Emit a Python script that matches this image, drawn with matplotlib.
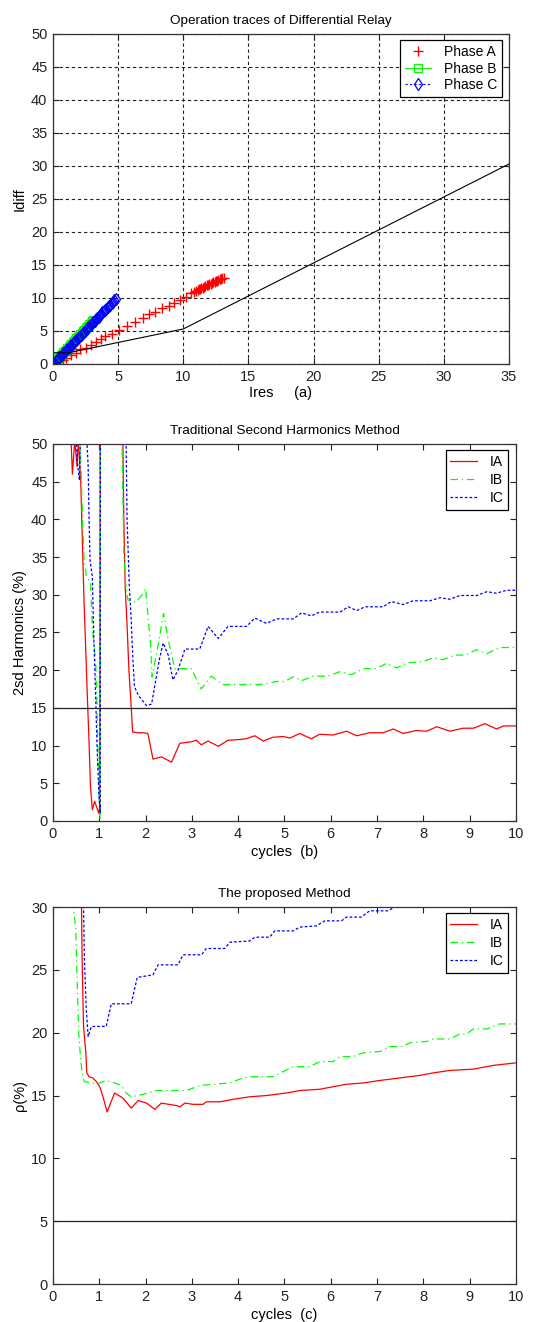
import numpy as np
import matplotlib
matplotlib.use('Agg')
import matplotlib.pyplot as plt

plt.rcParams['font.family'] = ['Liberation Sans', 'DejaVu Sans']

# DATOS PANEL (a): trazas de operacion del rele diferencial

caract_x = [0, 1.2, 10, 35]
caract_y = [1.7, 1.7, 5.3, 30.3]

fase_a = np.array([
    (0.0, 0.0), (0.1, 0.05), (0.2, 0.15), (0.35, 0.3), (0.5, 0.45), (0.75, 0.6),
    (1.0, 0.9), (1.4, 1.4), (1.75, 1.7), (2.1, 2.2), (2.5, 2.45), (2.9, 2.9),
    (3.3, 3.3), (3.7, 3.75), (4.0, 4.2), (4.5, 4.6), (5.1, 5.2), (5.7, 5.8),
    (6.3, 6.4), (6.9, 6.9), (7.4, 7.5), (7.8, 7.9), (8.4, 8.5), (8.9, 8.8),
    (9.3, 9.3), (9.75, 9.7), (10.2, 10.2), (10.6, 10.7), (10.8, 10.9),
    (10.95, 11.0), (11.1, 11.15), (11.2, 11.3), (11.3, 11.35), (11.4, 11.5),
    (11.5, 11.55), (11.6, 11.7), (11.7, 11.75), (11.8, 11.9), (11.9, 11.95),
    (12.0, 12.05), (12.1, 12.15), (12.2, 12.25), (12.3, 12.35), (12.4, 12.45),
    (12.5, 12.5), (12.6, 12.6), (12.7, 12.7), (12.8, 12.8), (12.9, 12.85),
    (13.0, 12.95), (13.1, 13.05)])

fase_b = np.array([
    (0.0, 0.0), (0.05, 0.15), (0.1, 0.25), (0.15, 0.3), (0.2, 0.45), (0.3, 0.65),
    (0.4, 0.85), (0.5, 1.1), (0.6, 1.3), (0.7, 1.5), (0.8, 1.75), (0.9, 1.95),
    (1.0, 2.15), (1.1, 2.4), (1.2, 2.6), (1.3, 2.8), (1.4, 3.0), (1.5, 3.25),
    (1.6, 3.45), (1.7, 3.65), (1.8, 3.9), (1.9, 4.1), (2.0, 4.3), (2.1, 4.5),
    (2.2, 4.75), (2.3, 4.95), (2.4, 5.15), (2.5, 5.4), (2.6, 5.6), (2.7, 5.8),
    (2.8, 6.05), (2.9, 6.25), (3.0, 6.45), (3.1, 6.7)])

fase_c = np.array([
    (0.0, 0.0), (0.05, 0.1), (0.1, 0.2), (0.2, 0.4), (0.3, 0.6), (0.4, 0.8),
    (0.5, 1.0), (0.6, 1.2), (0.7, 1.4), (0.8, 1.6), (0.9, 1.85), (1.0, 2.05),
    (1.1, 2.25), (1.2, 2.45), (1.3, 2.65), (1.4, 2.85), (1.5, 3.05), (1.6, 3.3),
    (1.7, 3.5), (1.8, 3.7), (1.9, 3.9), (2.0, 4.1), (2.1, 4.3), (2.2, 4.5),
    (2.3, 4.7), (2.4, 4.9), (2.5, 5.1), (2.6, 5.35), (2.7, 5.55), (2.8, 5.75),
    (2.9, 5.95), (3.0, 6.15), (3.1, 6.35), (3.2, 6.55), (3.3, 6.75), (3.4, 6.95),
    (3.5, 7.15), (3.6, 7.4), (3.7, 7.6), (3.8, 7.8), (3.9, 8.0), (4.0, 8.2),
    (4.1, 8.4), (4.2, 8.6), (4.3, 8.8), (4.4, 9.0), (4.5, 9.2), (4.6, 9.45),
    (4.7, 9.65), (4.8, 9.85)])

# DATOS PANEL (b): metodo tradicional de segundo armonico

ia_b = np.array([
    (0.36, 55), (0.42, 46), (0.47, 50.5), (0.52, 47), (0.55, 50.5), (0.6, 45),
    (0.64, 36), (0.67, 29.3), (0.74, 16.9), (0.78, 10.3), (0.81, 4.5), (0.85, 1.5),
    (0.9, 2.6), (0.94, 1.9), (0.99, 1.0), (1.01, 1.9), (1.02, 55), (1.5, 55),
    (1.53, 40), (1.56, 31), (1.6, 26), (1.64, 20), (1.69, 15.1), (1.72, 11.8),
    (1.85, 11.7), (1.95, 11.7), (2.05, 11.6), (2.16, 8.2), (2.34, 8.5), (2.56, 7.8),
    (2.74, 10.3), (2.99, 10.5), (3.1, 10.7), (3.2, 10.1), (3.35, 10.6), (3.57, 9.9),
    (3.78, 10.7), (4.03, 10.8), (4.17, 10.9), (4.36, 11.3), (4.54, 10.6), (4.75, 11.1),
    (4.97, 11.2), (5.12, 11.0), (5.33, 11.6), (5.58, 10.9), (5.76, 11.5), (6.05, 11.4),
    (6.34, 11.9), (6.56, 11.3), (6.84, 11.7), (7.13, 11.7), (7.35, 12.2), (7.56, 11.6),
    (7.85, 12.0), (8.07, 11.9), (8.29, 12.5), (8.57, 11.9), (8.86, 12.3), (9.08, 12.3),
    (9.33, 12.9), (9.58, 12.2), (9.73, 12.6), (10.0, 12.6)])

ib_b = np.array([
    (0.58, 55), (0.6, 48), (0.64, 40), (0.67, 35.0), (0.72, 32.4), (0.81, 31.7),
    (0.85, 25.7), (0.92, 21.3), (0.95, 15.6), (0.99, 4.1), (1.02, 0.1), (1.025, 55),
    (1.48, 55), (1.53, 35.5), (1.57, 31.5), (1.62, 29.3), (1.79, 29.0), (1.9, 29.8),
    (2.0, 30.8), (2.11, 23.1), (2.14, 19.1), (2.25, 22.6), (2.39, 27.5), (2.49, 24.0),
    (2.63, 20.2), (2.99, 20.2), (3.2, 17.5), (3.42, 19.2), (3.67, 18.1), (4.47, 18.1),
    (4.83, 18.5), (5.0, 18.5), (5.19, 19.1), (5.37, 18.6), (5.62, 19.2), (5.94, 19.2),
    (6.2, 19.8), (6.45, 19.4), (6.7, 20.2), (6.99, 20.2), (7.2, 20.9), (7.42, 20.3),
    (7.67, 21.0), (7.96, 21.1), (8.21, 21.6), (8.42, 21.4), (8.68, 22.0), (8.9, 22.0),
    (9.15, 22.7), (9.37, 22.2), (9.65, 23.0), (10.0, 23.0)])

ic_b = np.array([
    (0.49, 55), (0.52, 48), (0.57, 45.2), (0.6, 52), (0.72, 52), (0.76, 47),
    (0.78, 40), (0.8, 34.6), (0.85, 32.4), (0.88, 24.9), (0.92, 16.9), (0.95, 10.3),
    (0.99, 3.7), (1.02, 1.0), (1.025, 55), (1.57, 55), (1.6, 40), (1.65, 31),
    (1.69, 26.6), (1.72, 22.2), (1.76, 17.8), (1.85, 16.6), (2.02, 15.3), (2.13, 15.5),
    (2.3, 21.5), (2.38, 23.6), (2.49, 22.0), (2.59, 18.7), (2.7, 20.0), (2.85, 22.8),
    (3.17, 22.8), (3.35, 25.8), (3.57, 24.2), (3.78, 25.8), (4.18, 25.8), (4.36, 26.9),
    (4.61, 26.2), (4.83, 26.8), (5.19, 26.8), (5.37, 27.6), (5.58, 27.2), (5.76, 27.7),
    (6.2, 27.7), (6.38, 28.4), (6.56, 27.9), (6.74, 28.4), (7.13, 28.4), (7.31, 29.1),
    (7.56, 28.7), (7.78, 29.2), (8.14, 29.2), (8.36, 29.6), (8.57, 29.4), (8.79, 29.9),
    (9.15, 29.9), (9.37, 30.4), (9.58, 30.2), (9.8, 30.6), (10.0, 30.6)])

# DATOS PANEL (c): metodo propuesto

ia_c = np.array([
    (0.61, 32), (0.63, 25.8), (0.66, 20.5), (0.71, 18.4), (0.73, 16.8), (0.78, 16.5),
    (0.86, 16.4), (0.94, 16.1), (1.01, 15.7), (1.08, 14.9), (1.17, 13.7), (1.33, 15.2),
    (1.51, 14.8), (1.69, 14.0), (1.84, 14.6), (2.02, 14.4), (2.2, 13.9), (2.34, 14.4),
    (2.67, 14.2), (2.74, 14.1), (2.85, 14.4), (3.03, 14.3), (3.24, 14.3), (3.31, 14.5),
    (3.6, 14.5), (3.89, 14.7), (4.25, 14.9), (4.61, 15.0), (5.04, 15.2), (5.33, 15.4),
    (5.76, 15.5), (6.05, 15.7), (6.34, 15.9), (6.7, 16.0), (7.06, 16.2), (7.49, 16.4),
    (7.92, 16.6), (8.21, 16.8), (8.57, 17.0), (9.08, 17.1), (9.51, 17.4), (10.0, 17.6)])

ib_c = np.array([
    (0.42, 30.5), (0.49, 28.4), (0.53, 23.1), (0.56, 19.7), (0.6, 17.8), (0.63, 16.8),
    (0.68, 16.1), (0.83, 16.0), (0.97, 15.95), (1.15, 16.2), (1.33, 16.0), (1.48, 15.8),
    (1.58, 15.2), (1.69, 14.9), (1.95, 15.1), (2.23, 15.4), (2.88, 15.4), (3.03, 15.6),
    (3.17, 15.8), (3.46, 15.9), (3.82, 16.0), (4.1, 16.4), (4.32, 16.5), (4.75, 16.5),
    (4.97, 16.9), (5.19, 17.3), (5.55, 17.3), (5.76, 17.7), (6.05, 17.7), (6.2, 18.1),
    (6.48, 18.1), (6.7, 18.4), (7.06, 18.5), (7.28, 18.9), (7.56, 18.9), (7.71, 19.2),
    (8.07, 19.3), (8.21, 19.5), (8.57, 19.5), (8.79, 19.9), (8.93, 19.9), (9.08, 20.3),
    (9.37, 20.3), (9.65, 20.7), (10.0, 20.7)])

ic_c = np.array([
    (0.65, 32), (0.68, 25.8), (0.72, 21.8), (0.76, 19.7), (0.83, 20.5), (1.15, 20.5),
    (1.26, 22.3), (1.69, 22.3), (1.82, 24.4), (2.16, 24.6), (2.27, 25.4), (2.7, 25.4),
    (2.81, 26.2), (3.21, 26.2), (3.31, 26.7), (3.71, 26.7), (3.82, 27.2), (4.25, 27.3),
    (4.36, 27.6), (4.68, 27.6), (4.79, 28.1), (5.19, 28.1), (5.33, 28.4), (5.69, 28.5),
    (5.87, 28.9), (6.23, 28.9), (6.34, 29.2), (6.66, 29.2), (6.84, 29.7), (7.24, 29.7),
    (7.38, 30.0), (7.64, 30.04), (7.8, 30.4), (8.5, 30.6), (10.0, 31.5)])

umbral_b = 15
umbral_c = 5

# ESTILO TIPO MATLAB

def estilo(ax):
    ax.tick_params(direction='in', top=True, right=True, length=4, width=0.8,
                   labelsize=10.5, pad=4, colors='#222222')
    for s in ax.spines.values():
        s.set_linewidth(0.9)
        s.set_color('#333333')

def leyenda(ax, x, y, esp):
    leg = ax.legend(loc='upper right', bbox_to_anchor=(x, y), fontsize=10,
                    fancybox=False, framealpha=1, edgecolor='black',
                    handlelength=1.9, borderpad=0.35, labelspacing=esp,
                    handletextpad=0.9, borderaxespad=0)
    leg.get_frame().set_linewidth(0.9)

fig = plt.figure(figsize=(5.4, 13.22), dpi=100)

# GRAFICA (a)

ax1 = fig.add_axes([0.0981, 0.7247, 0.8444, 0.2496])
ax1.plot(fase_a[:, 0], fase_a[:, 1], 'r+', ms=7, mew=1, label='Phase A')
ax1.plot(fase_b[:, 0], fase_b[:, 1], '-s', color='#00ff00', mfc='none', ms=6,
         mew=0.9, lw=0.8, label='Phase B')
ax1.plot(fase_c[:, 0], fase_c[:, 1], '--d', color='#0000ff', mfc='none', ms=6.5,
         mew=0.9, lw=0.8, dashes=(2, 2), label='Phase C')
ax1.plot(caract_x, caract_y, color='black', lw=0.8)
ax1.set_xlim(0, 35)
ax1.set_ylim(0, 50)
ax1.set_xticks(np.arange(0, 36, 5))
ax1.set_yticks(np.arange(0, 51, 5))
ax1.grid(True, color='#222222', linestyle=(0, (3, 2.5)), linewidth=0.8)
ax1.set_title('Operation traces of Differential Relay', fontsize=9.7, pad=7)
ax1.set_xlabel('Ires     (a)', fontsize=10.5, labelpad=2)
ax1.set_ylabel('Idiff', fontsize=10.5, labelpad=3)
estilo(ax1)
leyenda(ax1, 0.985, 0.982, 0.2)

# GRAFICA (b)

ax2 = fig.add_axes([0.0981, 0.379, 0.8574, 0.2852])
ax2.plot(ia_b[:, 0], ia_b[:, 1], color='#ff0000', lw=0.9, label='IA')
ax2.plot(ib_b[:, 0], ib_b[:, 1], color='#00ff00', lw=0.9,
         dashes=(6, 3, 1, 3), label='IB')
ax2.plot(ic_b[:, 0], ic_b[:, 1], color='#0000ff', lw=0.9,
         dashes=(2.2, 1.6), label='IC')
ax2.axhline(umbral_b, color='#222222', lw=0.9)
ax2.set_xlim(0, 10)
ax2.set_ylim(0, 50)
ax2.set_xticks(np.arange(0, 11, 1))
ax2.set_yticks(np.arange(0, 51, 5))
ax2.set_title('Traditional Second Harmonics Method', fontsize=9.7, pad=7)
ax2.set_xlabel('cycles  (b)', fontsize=10.5, labelpad=3)
ax2.set_ylabel('2sd Harmonics (%)', fontsize=10.5, labelpad=3)
estilo(ax2)
leyenda(ax2, 0.983, 0.984, 0.3)

# GRAFICA (c)

ax3 = fig.add_axes([0.0981, 0.0287, 0.8574, 0.2852])
ax3.plot(ia_c[:, 0], ia_c[:, 1], color='#ff0000', lw=0.9, label='IA')
ax3.plot(ib_c[:, 0], ib_c[:, 1], color='#00ff00', lw=0.9,
         dashes=(6, 3, 1, 3), label='IB')
ax3.plot(ic_c[:, 0], ic_c[:, 1], color='#0000ff', lw=0.9,
         dashes=(2.2, 1.6), label='IC')
ax3.axhline(umbral_c, color='#222222', lw=0.9)
ax3.set_xlim(0, 10)
ax3.set_ylim(0, 30)
ax3.set_xticks(np.arange(0, 11, 1))
ax3.set_yticks(np.arange(0, 31, 5))
ax3.set_title('The proposed Method', fontsize=9.7, pad=7)
ax3.set_xlabel('cycles  (c)', fontsize=10.5, labelpad=3)
ax3.set_ylabel('ρ(%)', fontsize=10.5, labelpad=3)
estilo(ax3)
leyenda(ax3, 0.983, 0.984, 0.3)

plt.savefig('out.png', dpi=100)
